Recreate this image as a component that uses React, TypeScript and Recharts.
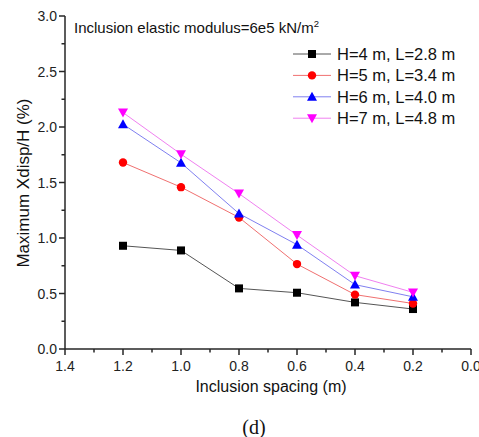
import React from 'react';
import { LineChart, Line, XAxis, YAxis } from 'recharts';

const spacing = [1.2, 1.0, 0.8, 0.6, 0.4, 0.2];
const h4 = [0.93, 0.888, 0.546, 0.507, 0.42, 0.36];
const h5 = [1.68, 1.458, 1.185, 0.765, 0.49, 0.41];
const h6 = [2.025, 1.677, 1.22, 0.94, 0.58, 0.47];
const h7 = [2.13, 1.755, 1.40, 1.026, 0.66, 0.51];

const xTicks = [1.4, 1.3, 1.2, 1.1, 1.0, 0.9, 0.8, 0.7, 0.6, 0.5, 0.4, 0.3, 0.2, 0.1, 0];
const yTicks = [0, 0.25, 0.5, 0.75, 1.0, 1.25, 1.5, 1.75, 2.0, 2.25, 2.5, 2.75, 3.0];

const seriesNames = ['H=4 m, L=2.8 m', 'H=5 m, L=3.4 m', 'H=6 m, L=4.0 m', 'H=7 m, L=4.8 m'];
const markerColors = ['#000000', '#ff0000', '#0000ff', '#ff00ff'];
const lineColors = ['#555555', '#f07070', '#8080f0', '#f080f0'];
const keys = ['h4', 'h5', 'h6', 'h7'];

const data = spacing.map((x, i) => ({ x, h4: h4[i], h5: h5[i], h6: h6[i], h7: h7[i] }));

const FONT = 'Liberation Sans, Arial, sans-serif';
const AXIS = '#262626';

function Marker({ kind, cx, cy, color }: { kind: number; cx: number; cy: number; color: string }) {
  if (kind === 0) return <rect x={cx - 4} y={cy - 4} width={8} height={8} fill={color} />;
  if (kind === 1) return <circle cx={cx} cy={cy} r={4.2} fill={color} />;
  if (kind === 2)
    return <polygon points={`${cx},${cy - 5} ${cx + 5},${cy + 4} ${cx - 5},${cy + 4}`} fill={color} />;
  return <polygon points={`${cx},${cy + 5} ${cx + 5},${cy - 4} ${cx - 5},${cy - 4}`} fill={color} />;
}

const XTick = (props: any) => {
  const { x, y, payload } = props;
  const v = payload.value as number;
  const major = Math.round(v * 10) % 2 === 0;
  return (
    <g>
      <line x1={x} x2={x} y1={y} y2={y + (major ? 6 : 3.5)} stroke={AXIS} strokeWidth={1.5} />
      {major && (
        <text x={x} y={y + 22} textAnchor="middle" fontSize={14} fontFamily={FONT} fill="#222">
          {v.toFixed(1)}
        </text>
      )}
    </g>
  );
};

const YTick = (props: any) => {
  const { x, y, payload } = props;
  const v = payload.value as number;
  const major = Math.round(v * 100) % 50 === 0;
  return (
    <g>
      <line x1={x} x2={x - (major ? 6 : 3.5)} y1={y} y2={y} stroke={AXIS} strokeWidth={1.5} />
      {major && (
        <text x={x - 8} y={y + 5} textAnchor="end" fontSize={14} fontFamily={FONT} fill="#222">
          {v.toFixed(1)}
        </text>
      )}
    </g>
  );
};

export default function App() {
  return (
    <div style={{ position: 'absolute', left: 0, top: 0, width: 479, height: 437, background: '#fff' }}>
      <LineChart width={479} height={437} data={data} margin={{ top: 16, right: 8, left: 0, bottom: 0 }}>
        <XAxis
          dataKey="x"
          type="number"
          domain={[0, 1.4]}
          reversed
          ticks={xTicks}
          interval={0}
          height={88}
          tickLine={false}
          tickSize={0}
          tickMargin={0}
          tick={<XTick />}
          axisLine={{ stroke: AXIS, strokeWidth: 1.5 }}
          allowDataOverflow
        />
        <YAxis
          type="number"
          domain={[0, 3]}
          ticks={yTicks}
          interval={0}
          width={65}
          tickLine={false}
          tickSize={0}
          tickMargin={0}
          tick={<YTick />}
          axisLine={{ stroke: AXIS, strokeWidth: 1.5 }}
          allowDataOverflow
        />
        {keys.map((k, i) => (
          <Line
            key={k}
            dataKey={k}
            stroke={lineColors[i]}
            strokeWidth={1}
            isAnimationActive={false}
            dot={(p: any) => <Marker key={`${k}-${p.index}`} kind={i} cx={p.cx} cy={p.cy} color={markerColors[i]} />}
          />
        ))}
      </LineChart>
      <svg width={479} height={437} style={{ position: 'absolute', left: 0, top: 0, pointerEvents: 'none' }}>
        <text x={74} y={32.5} fontSize={15} fontFamily={FONT} fill="#111">
          Inclusion elastic modulus=6e5 kN/m
          <tspan fontSize={9.5} dy={-6}>2</tspan>
        </text>
        {seriesNames.map((n, i) => {
          const cy = 54 + i * 21.4;
          return (
            <g key={n}>
              <line x1={293} x2={331} y1={cy} y2={cy} stroke={lineColors[i]} strokeWidth={1} />
              <Marker kind={i} cx={312} cy={cy} color={markerColors[i]} />
              <text x={337} y={cy + 6} fontSize={16.5} fontFamily={FONT} fill="#111">
                {n}
              </text>
            </g>
          );
        })}
        <text
          x={0}
          y={0}
          transform="translate(29,183) rotate(-90)"
          textAnchor="middle"
          fontSize={17}
          fontFamily={FONT}
          fill="#111"
        >
          Maximum Xdisp/H (%)
        </text>
        <text x={271} y={392} textAnchor="middle" fontSize={16} fontFamily={FONT} fill="#111">
          Inclusion spacing (m)
        </text>
        <text x={254} y={434} textAnchor="middle" fontSize={20} fontFamily="Liberation Serif, Times New Roman, serif" fill="#111">
          (d)
        </text>
      </svg>
    </div>
  );
}
